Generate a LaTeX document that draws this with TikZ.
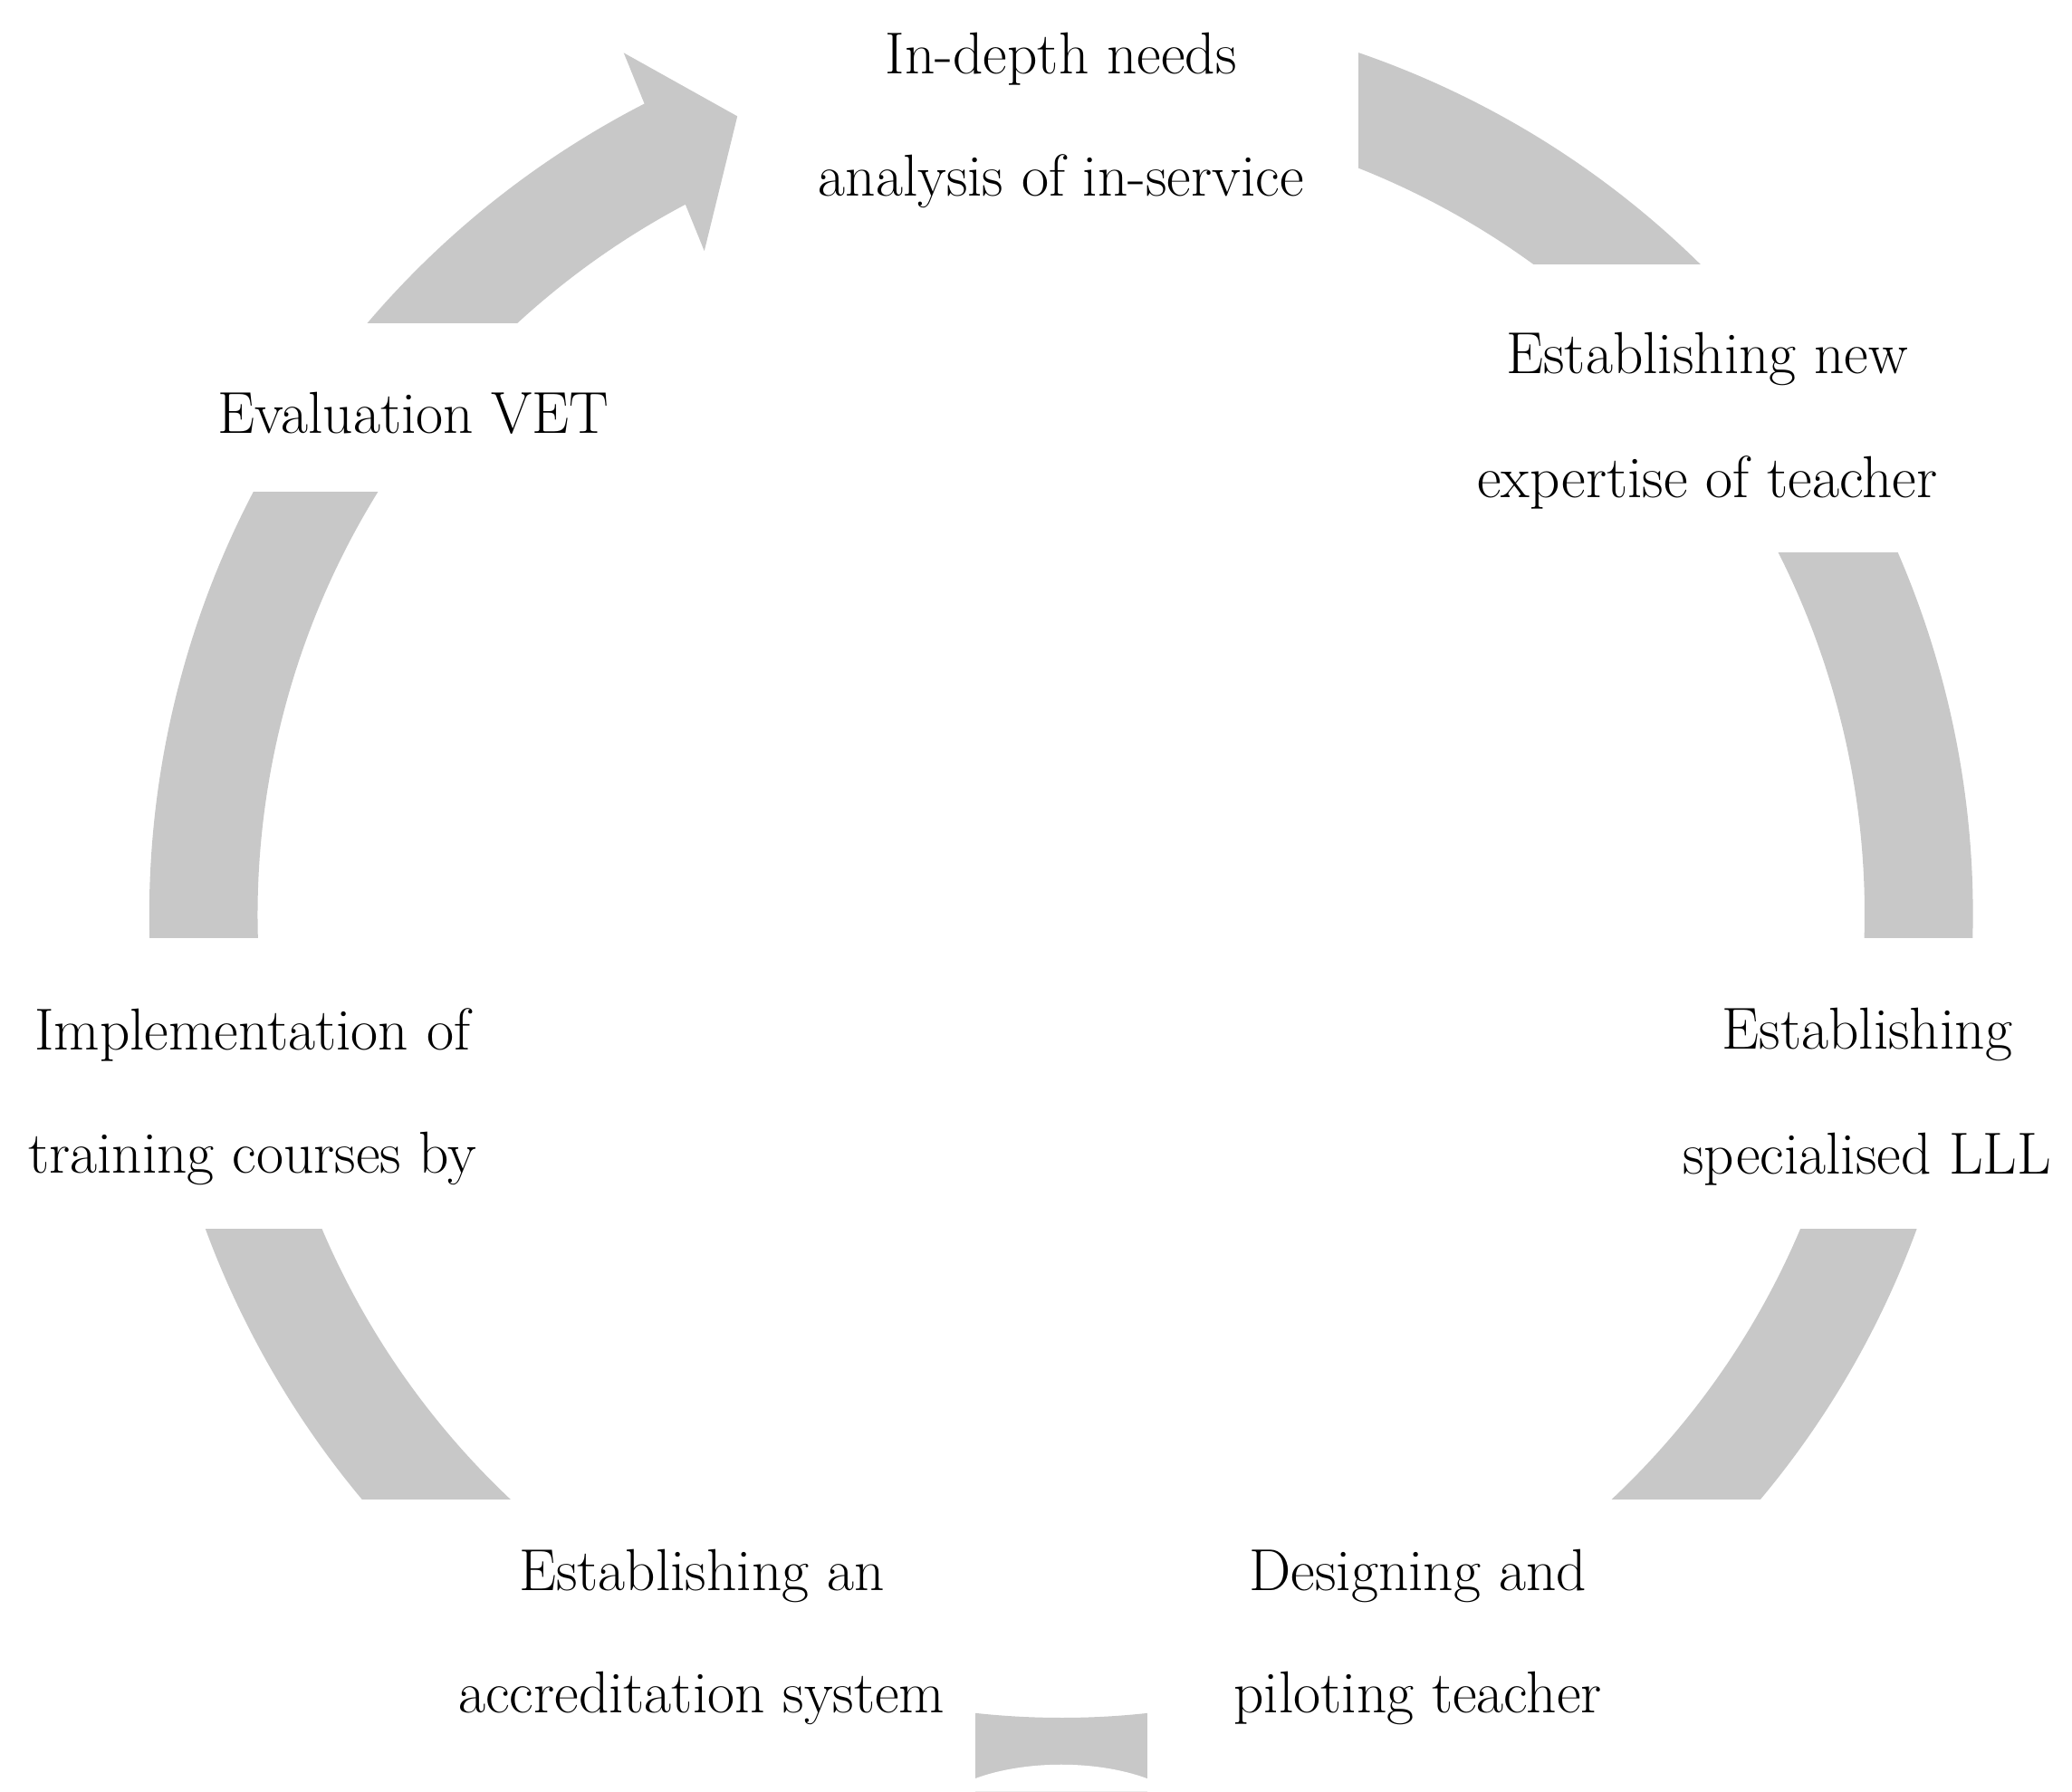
\documentclass[tikz,border=0pt]{standalone}
\begin{document}
\begin{tikzpicture}[x=0.02cm,y=0.02cm,
  lbl/.style={font=\fontsize{25.5}{30}\selectfont, inner sep=0pt, anchor=center},
  ring/.style={draw=ringgray, line width=1.64cm},
  cover/.style={fill=white, draw=none}]
\definecolor{ringgray}{RGB}{200,200,200}
\useasboundingbox (0,0) rectangle (1568,1356);
% ring
\draw[ring] ([shift={(75:12.98cm)}]803,664) arc[start angle=75, end angle=-244.6, radius=12.98cm];
% arrowhead
\fill[ringgray] (472,1316) -- (558,1268) -- (533,1166) -- cycle;
% white cut-outs for text
\fill[cover] (562,1356) rectangle (1028,1126);
\fill[cover] (1000,1156) rectangle (1568,938);
\fill[cover] (1000,646) rectangle (1568,426);
\fill[cover] (0,221) rectangle (1568,99);
\fill[cover] (868,99) rectangle (1568,0);
\fill[cover] (0,99) rectangle (738,0);
\fill[cover] (0,646) rectangle (600,426);
\fill[cover] (0,1111) rectangle (600,984);
\fill[cover] (0,0) -- (1568,0) -- (1568,10) -- (868,10) .. controls (830,24) and (776,24) .. (738,10) -- (0,10) -- cycle;
% labels
\node[lbl] (t1) at (803,1311) {In-depth needs};
\node[lbl] (t2) at (803,1219) {analysis of in-service};
\node[lbl] (r1) at (1292,1084) {Establishing new};
\node[lbl] (r2) at (1292,991) {expertise of teacher};
\node[lbl] (s1) at (1413,573) {Establishing};
\node[lbl] (s2) at (1413,479) {specialised LLL};
\node[lbl] (d1) at (1073,163) {Designing and};
\node[lbl] (d2) at (1073,71) {piloting teacher};
\node[lbl] (a1) at (531,163) {Establishing an};
\node[lbl] (a2) at (531,71) {accreditation system};
\node[lbl] (i1) at (191,573) {Implementation of};
\node[lbl] (i2) at (191,479) {training courses by};
\node[lbl] (e1) at (313,1043) {Evaluation VET};
\end{tikzpicture}
\end{document}
